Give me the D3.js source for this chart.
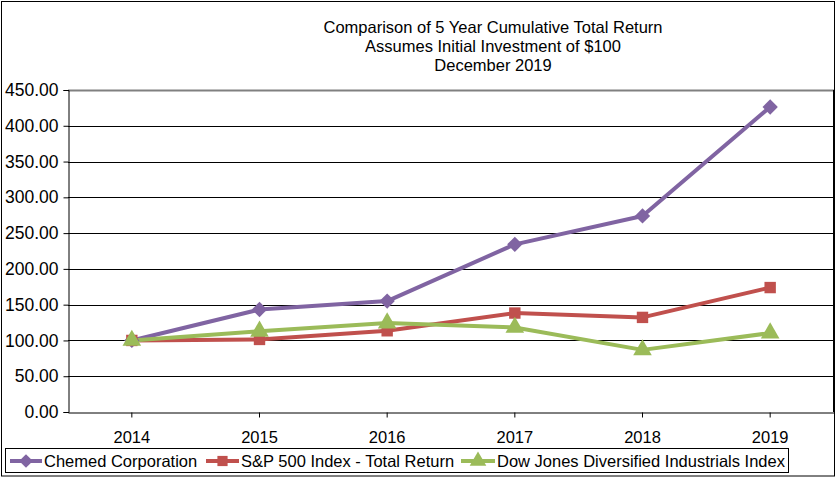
<!DOCTYPE html>
<html><head><meta charset="utf-8">
<script src="https://cdn.jsdelivr.net/npm/d3@7"></script>
<style>body{margin:0;background:#fff}svg{display:block;font-family:"Liberation Sans",Arial,sans-serif}</style>
</head><body><svg id="c" width="837" height="478"></svg>
<script>
const years = ["2014","2015","2016","2017","2018","2019"];
const chemed = [100, 143.2, 155.0, 234.3, 274.0, 426.3];
const sp500 = [100, 101.4, 113.5, 138.3, 132.2, 173.9];
const dowJones = [100, 112.8, 124.3, 118.2, 86.8, 110.3];
const yTicks = [0,50,100,150,200,250,300,350,400,450];
const seriesNames = ["Chemed Corporation","S&P 500 Index - Total Return","Dow Jones Diversified Industrials Index"];
const titleLines = ["Comparison of 5 Year Cumulative Total Return","Assumes Initial Investment of $100","December 2019"];

const colors = ["#8064A2","#C0504D","#9BBB59"];
const shapes = [d3.symbolDiamond2 || d3.symbolDiamond, d3.symbolSquare, d3.symbolTriangle];
const svg = d3.select("#c");
const L = 68, R = 834, T = 90, B = 412;
const x = d3.scaleBand().domain(years).range([L, R]);
const y = d3.scaleLinear().domain([0,450]).range([B, T]);

svg.append("rect").attr("x",1.5).attr("y",1.5).attr("width",833).attr("height",474.5)
  .attr("fill","#fff").attr("stroke","#000").attr("stroke-width",1);

const tg = svg.append("g").attr("font-size",16.5).attr("text-anchor","middle");
titleLines.forEach((t,i)=>tg.append("text").attr("x",493).attr("y",33+i*19).text(t));

// gridlines
yTicks.forEach(v=>{
  if(v===0) return;
  svg.append("line").attr("x1",L).attr("x2",R).attr("y1",Math.round(y(v))+0.5).attr("y2",Math.round(y(v))+0.5)
    .attr("stroke", v===450 ? "#808080" : "#000").attr("stroke-width", v===450?2:1);
});
// y axis
const ya = svg.append("g").attr("transform",`translate(${L+0.5},0)`)
  .call(d3.axisLeft(y).tickValues(yTicks).tickFormat(d3.format(".2f")).tickSize(5).tickPadding(5));
ya.select(".domain").attr("stroke","#000");
ya.selectAll("text").attr("font-size",17.5).attr("font-family","Liberation Sans, Arial, sans-serif").attr("fill","#000");
// x axis
const xa = svg.append("g").attr("transform",`translate(0,${B+0.5})`)
  .call(d3.axisBottom(x).tickSize(5).tickPadding(14).tickSizeOuter(0));
xa.select(".domain").attr("stroke","#000");
xa.selectAll("text").attr("font-size",16.5).attr("font-family","Liberation Sans, Arial, sans-serif").attr("fill","#000");
svg.append("line").attr("x1",R-0.5).attr("x2",R-0.5).attr("y1",T).attr("y2",B).attr("stroke","#000");

const data = [chemed, sp500, dowJones];
const cx = d => x(d) + x.bandwidth()/2;
const line = d3.line().x((d,i)=>cx(years[i])).y(d=>y(d));
const sizes = [150, 130, 150];
data.forEach((s,k)=>{
  svg.append("path").datum(s).attr("d",line).attr("fill","none").attr("stroke",colors[k]).attr("stroke-width",4).attr("stroke-linejoin","round");
});
data.forEach((s,k)=>{
  svg.append("g").selectAll("path").data(s).join("path")
    .attr("transform",(d,i)=>`translate(${cx(years[i])},${y(d)})`)
    .attr("d", d3.symbol().type(shapes[k]).size(sizes[k]))
    .attr("fill",colors[k]);
});

// legend
const lg = svg.append("g");
lg.append("rect").attr("x",5.5).attr("y",448.5).attr("width",783).attr("height",24).attr("fill","#fff").attr("stroke","#000");
const legX = [10, 206, 461];
const legW = [32, 33, 34];
seriesNames.forEach((n,k)=>{
  const g = lg.append("g").attr("transform",`translate(${legX[k]},461)`);
  g.append("line").attr("x1",0).attr("x2",legW[k]).attr("stroke",colors[k]).attr("stroke-width",4);
  g.append("path").attr("transform",`translate(${legW[k]/2},0)`).attr("d",d3.symbol().type(shapes[k]).size(sizes[k]*0.8)).attr("fill",colors[k]);
  g.append("text").attr("x",legW[k]+2).attr("y",6).attr("font-size",16.5).attr("textLength",null).text(n);
});
</script></body></html>
